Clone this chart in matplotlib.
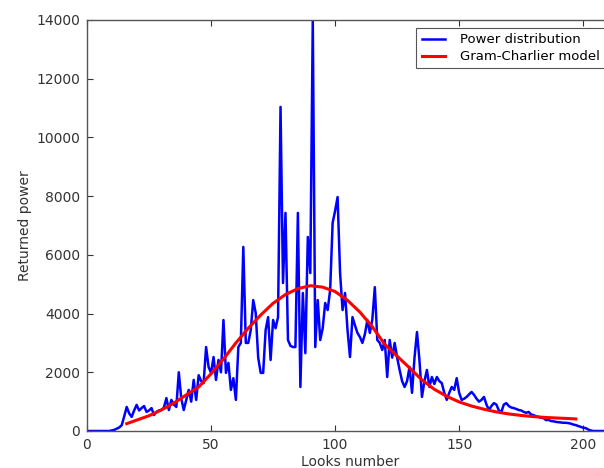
import matplotlib
matplotlib.use("Agg")
import matplotlib.pyplot as plt
import numpy as np

# Blue series: returned power per look (x = 0..210)
looks = list(range(0, 211))
power = [
    0, 0, 0, 0, 0, 0, 0, 0, 0, 0,            # 0-9
    20, 40, 80, 120, 200, 500, 820, 600, 480, 700,   # 10-19
    890, 700, 780, 850, 650, 700, 780, 545, 650, 700,  # 20-29
    715, 800, 1120, 715, 1060, 900, 820, 2000, 1100, 715,  # 30-39
    1060, 1400, 1000, 1740, 1060, 1900, 1700, 1630, 2860, 2180,  # 40-49
    1980, 2520, 1740, 2420, 2000, 3780, 1980, 2320, 1400, 1800,  # 50-59
    1060, 2860, 3000, 6270, 3000, 3000, 3440, 4460, 4020, 2500,  # 60-69
    1980, 1980, 3440, 3880, 2420, 3780, 3500, 3880, 11040, 5040,  # 70-79
    7430, 3100, 2900, 2860, 2860, 7430, 1500, 4700, 2650, 6610,  # 80-89
    5380, 14000, 2860, 4460, 3100, 3500, 4360, 4120, 4800, 7090,  # 90-99
    7500, 7970, 5380, 4120, 4700, 3440, 2520, 3880, 3600, 3340,  # 100-109
    3200, 3000, 3300, 3780, 3340, 3800, 4900, 3100, 3000, 2760,  # 110-119
    3100, 1840, 3100, 2500, 3000, 2500, 2080, 1700, 1500, 1700,  # 120-129
    2180, 1300, 2500, 3370, 2400, 1160, 1700, 2080, 1500, 1840,  # 130-139
    1600, 1840, 1700, 1630, 1300, 1060, 1300, 1500, 1400, 1800,  # 140-149
    1300, 1060, 1100, 1160, 1250, 1330, 1230, 1100, 1000, 1060,  # 150-159
    1160, 900, 715, 850, 950, 900, 700, 650, 900, 950,  # 160-169
    850, 800, 780, 750, 715, 700, 650, 620, 650, 560,  # 170-179
    540, 500, 480, 450, 440, 370, 380, 340, 330, 310,  # 180-189
    300, 290, 280, 280, 270, 250, 220, 200, 170, 140,  # 190-199
    110, 100, 50, 20, 0, 0, 0, 0, 0, 0, 0,  # 200-210
]

# Red series: Gram-Charlier model, read at sample looks
model_x = [16, 20, 25, 30, 35, 40, 45, 50, 55, 60, 65, 70, 75, 80, 85, 90,
           95, 100, 105, 110, 115, 120, 125, 130, 135, 140, 145, 150, 155,
           160, 165, 170, 175, 180, 185, 190, 195, 197]
model_y = [250, 370, 520, 720, 950, 1230, 1500, 1950, 2450, 3000, 3500, 3950,
           4350, 4650, 4850, 4950, 4900, 4750, 4450, 4050, 3550, 2950, 2550,
           2150, 1740, 1420, 1180, 990, 850, 740, 650, 580, 530, 490, 460,
           440, 420, 410]

xticks = [0, 50, 100, 150, 200]
yticks = [0, 2000, 4000, 6000, 8000, 10000, 12000, 14000]

W, H = 604, 468
fig = plt.figure(figsize=(W / 100, H / 100), dpi=100)
left, right, top, bottom = 87, 613, 20, 431
ax = fig.add_axes([left / W, 1 - bottom / H, (right - left) / W, (bottom - top) / H])

ax.plot(looks, power, color="#0000ff", lw=1.8, label="Power distribution")
ax.plot(model_x, model_y, color="#ff0000", lw=2.2, label="Gram-Charlier model")

ax.set_xlim(0, 212)
ax.set_ylim(0, 14000)
ax.set_xticks(xticks)
ax.set_yticks(yticks)
ax.tick_params(direction="in", top=True, right=True, length=4, width=0.8,
               labelsize=10, colors="#333333", pad=5)
for s in ax.spines.values():
    s.set_color("#555555")
    s.set_linewidth(1.0)

ax.set_xlabel("Looks number", fontsize=10, color="#333333", labelpad=2)
ax.set_ylabel("Returned power", fontsize=10, color="#333333", labelpad=3)

leg = ax.legend(loc="upper right", fontsize=9.5, fancybox=False, framealpha=1,
                edgecolor="#555555", handlelength=1.8, handletextpad=1.1,
                borderpad=0.4, labelspacing=0.3, borderaxespad=0.6)
leg.get_frame().set_linewidth(0.8)

fig.savefig("out.png", dpi=100)
